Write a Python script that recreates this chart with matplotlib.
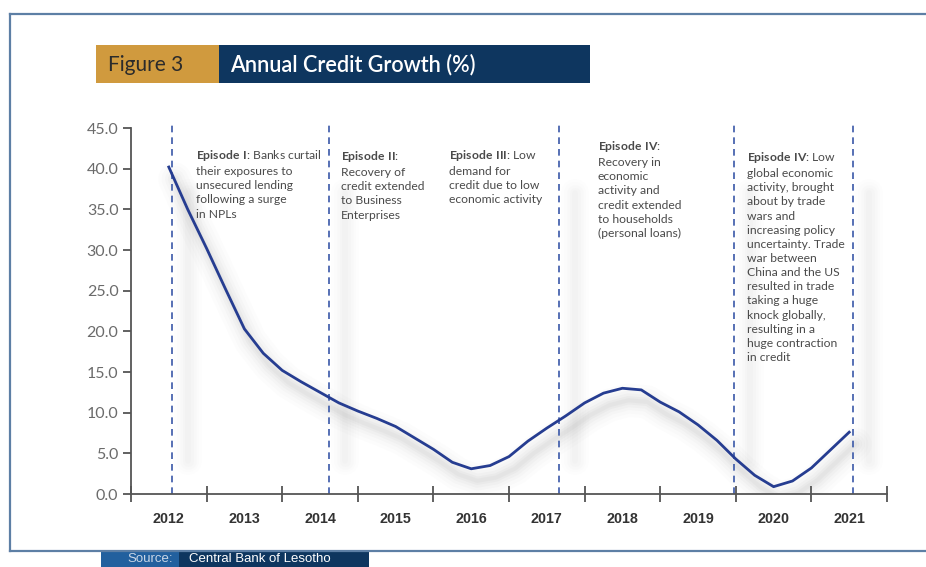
import numpy as np
import matplotlib
matplotlib.use("Agg")
import matplotlib.pyplot as plt
from matplotlib.patches import Rectangle
from matplotlib.lines import Line2D
import matplotlib.transforms as mtransforms

# ---------------- data ----------------
dates = [2012.50, 2012.75, 2013.00, 2013.25, 2013.50, 2013.75, 2014.00, 2014.25,
         2014.50, 2014.75, 2015.00, 2015.25, 2015.50, 2015.75, 2016.00, 2016.25,
         2016.50, 2016.75, 2017.00, 2017.25, 2017.50, 2017.75, 2018.00, 2018.25,
         2018.50, 2018.75, 2019.00, 2019.25, 2019.50, 2019.75, 2020.00, 2020.25,
         2020.50, 2020.75, 2021.00, 2021.25, 2021.50]
credit_growth = [40.2, 35.0, 30.2, 25.2, 20.3, 17.3, 15.2, 13.8,
                 12.5, 11.2, 10.2, 9.3, 8.3, 6.9, 5.5, 3.9,
                 3.1, 3.5, 4.6, 6.5, 8.1, 9.6, 11.2, 12.4,
                 13.0, 12.8, 11.3, 10.1, 8.5, 6.6, 4.3, 2.3,
                 0.9, 1.6, 3.2, 5.4, 7.6]
year_labels = ["2012", "2013", "2014", "2015", "2016", "2017", "2018", "2019", "2020", "2021"]
year_starts = [2012, 2013, 2014, 2015, 2016, 2017, 2018, 2019, 2020, 2021, 2022]
y_ticks = [0, 5, 10, 15, 20, 25, 30, 35, 40, 45]
episode_breaks = [2012.54, 2014.62, 2017.66, 2019.98, 2021.55]

episode_titles = ["Episode I", "Episode II", "Episode III", "Episode IV", "Episode IV"]
episode_texts = [
    ": Banks curtail\ntheir exposures to\nunsecured lending\nfollowing a surge\nin NPLs",
    ":\nRecovery of\ncredit extended\nto Business\nEnterprises",
    ": Low\ndemand for\ncredit due to low\neconomic activity",
    ":\nRecovery in\neconomic\nactivity and\ncredit extended\nto households\n(personal loans)",
    ": Low\nglobal economic\nactivity, brought\nabout by trade\nwars and\nincreasing policy\nuncertainty. Trade\nwar between\nChina and the US\nresulted in trade\ntaking a huge\nknock globally,\nresulting in a\nhuge contraction\nin credit",
]
episode_pos_px = [(196, 148), (341, 149), (449, 148), (598, 139), (747, 150)]

# ---------------- style ----------------
W, H = 926, 567
BODY = ["Lato", "DejaVu Sans"]
NARROW = ["Liberation Sans", "DejaVu Sans"]
plt.rcParams["font.family"] = BODY
plt.rcParams["mathtext.fontset"] = "custom"
plt.rcParams["mathtext.rm"] = "Lato"
plt.rcParams["mathtext.bf"] = "Lato:bold"

LINE_C = "#263d91"
DASH_C = "#3a58a8"
AX_C = "#555555"
TXT_C = "#4a4a4a"

fig = plt.figure(figsize=(W / 100, H / 100), dpi=100)
fig.patch.set_facecolor("white")

def fx(px):
    return px / W

def fy(py):
    return 1 - py / H

ax = fig.add_axes([fx(131), fy(494), (887 - 131) / W, (494 - 128) / H])
ax.set_xlim(2012, 2022)
ax.set_ylim(0, 45)

for s in ["top", "right"]:
    ax.spines[s].set_visible(False)
for s in ["left", "bottom"]:
    ax.spines[s].set_color(AX_C)
    ax.spines[s].set_linewidth(1.3)

ax.set_yticks(y_ticks)
ax.set_yticklabels([f"{v:.1f}" for v in y_ticks])
ax.tick_params(axis="y", direction="out", length=6, width=1.3, color=AX_C,
               labelsize=11.5, labelcolor="#6b6b6b", pad=3)
ax.set_xticks(year_starts)
ax.set_xticklabels([])
ax.tick_params(axis="x", which="major", direction="inout", length=12, width=1.3, color=AX_C)
ax.set_xticks([v + 0.5 for v in year_starts[:-1]], minor=True)
ax.set_xticklabels(year_labels, minor=True, fontfamily=NARROW, fontweight="bold",
                   fontsize=10.3, color="#333333")
ax.tick_params(axis="x", which="minor", length=0, pad=13)

# soft grey shadow under the line
shadow_tr = mtransforms.offset_copy(ax.transData, fig=fig, x=6, y=-12, units="dots")
for lw, a in [(24, 0.02), (19, 0.025), (14, 0.03), (10, 0.04), (6, 0.05), (3, 0.05)]:
    ax.plot(dates, credit_growth, color="#808080", lw=lw, alpha=a,
            solid_capstyle="round", solid_joinstyle="round", transform=shadow_tr, zorder=1)

# soft vertical shadows next to the episode lines
vshadow_tr = mtransforms.offset_copy(ax.transData, fig=fig, x=16, y=0, units="dots")
for xb in episode_breaks:
    for lw, a in [(20, 0.015), (16, 0.017), (12, 0.019), (8, 0.021), (4, 0.023)]:
        ax.plot([xb, xb], [4, 37], color="#808080", lw=lw, alpha=a,
                solid_capstyle="round", transform=vshadow_tr, zorder=1, clip_on=False)

# episode dashed lines
for xb in episode_breaks:
    ax.plot([xb, xb], [0, 45.7], color=DASH_C, lw=1.2, ls=(0, (4, 3)), zorder=2, clip_on=False)

# main line
ax.plot(dates, credit_growth, color=LINE_C, lw=2.0, solid_joinstyle="round", zorder=3)

# episode annotations
for title, body, (px, py) in zip(episode_titles, episode_texts, episode_pos_px):
    t = title.replace(" ", r"\ ")
    fig.text(fx(px), fy(py), r"$\bf{" + t + "}$" + body, ha="left", va="top",
             fontsize=8.7, color=TXT_C, linespacing=1.35)

# frame lines
fr_c = "#5d7fa5"
fig.add_artist(Line2D([fx(10), fx(926)], [fy(14), fy(14)], color=fr_c, lw=1.6))
fig.add_artist(Line2D([fx(10), fx(10)], [fy(14), fy(551)], color=fr_c, lw=1.6))
fig.add_artist(Line2D([fx(10), fx(926)], [fy(551), fy(551)], color=fr_c, lw=1.6))

# title boxes
fig.add_artist(Rectangle((fx(96), fy(83)), fx(219) - fx(96), fy(45) - fy(83),
                         transform=fig.transFigure, color="#d09a3e", lw=0))
fig.add_artist(Rectangle((fx(219), fy(83)), fx(590) - fx(219), fy(45) - fy(83),
                         transform=fig.transFigure, color="#0e365f", lw=0))
fig.text(fx(108), fy(65), "Figure 3", ha="left", va="center", fontsize=15,
         color="#2b2b2b")
fig.text(fx(230), fy(65), "Annual Credit Growth (%)", ha="left", va="center",
         fontsize=15.6, color="white", fontweight="semibold")

# source boxes
fig.add_artist(Rectangle((fx(101), fy(567)), fx(179) - fx(101), fy(552) - fy(567),
                         transform=fig.transFigure, color="#22609e", lw=0))
fig.add_artist(Rectangle((fx(179), fy(567)), fx(369) - fx(179), fy(552) - fy(567),
                         transform=fig.transFigure, color="#0e365f", lw=0))
fig.text(fx(173), fy(559.5), "Source:", ha="right", va="center", fontsize=9.5,
         color="#c9d6e6", fontfamily=NARROW)
fig.text(fx(189), fy(559.5), "Central Bank of Lesotho", ha="left", va="center",
         fontsize=9.5, color="white", fontfamily=NARROW)

fig.savefig("out.png", dpi=100, facecolor="white")
